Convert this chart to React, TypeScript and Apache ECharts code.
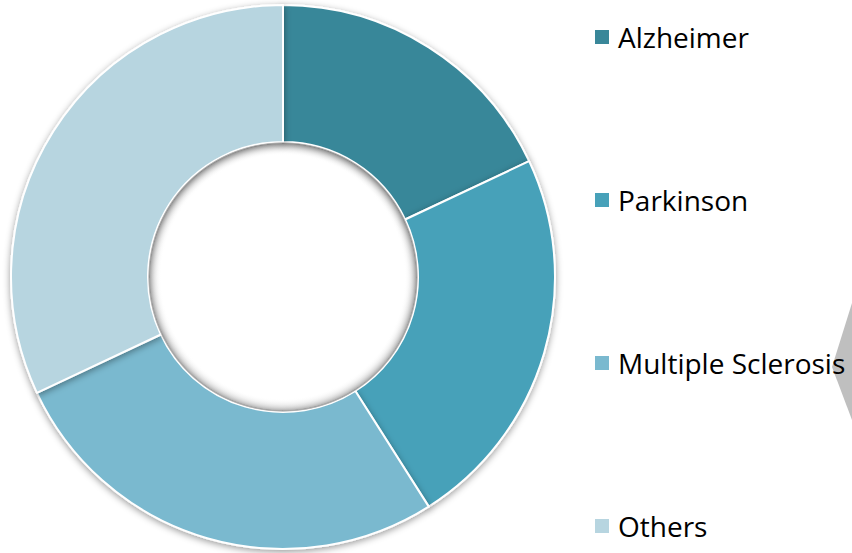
import React, { useEffect, useRef } from "react";
import * as echarts from "echarts";

const categories = ["Alzheimer", "Parkinson", "Multiple Sclerosis", "Others"];
const values = [18, 23, 27, 32];
const colors = ["#398799", "#47A1B9", "#7AB9CF", "#B7D5E0"];

export default function App() {
  const ref = useRef<HTMLDivElement>(null);
  useEffect(() => {
    if (!ref.current) return;
    const chart = echarts.init(ref.current, null, { renderer: "svg" });
    const cx = 283;
    const cy = 277;
    const rIn = 135;
    chart.setOption({
      animation: false,
      backgroundColor: "#ffffff",
      color: colors,
      legend: {
        orient: "vertical",
        left: 593,
        top: 22,
        padding: 0,
        icon: "rect",
        itemWidth: 16,
        itemHeight: 16,
        itemGap: 133,
        data: categories,
        textStyle: {
          fontFamily: "Open Sans",
          fontSize: 28,
          color: "#000000",
          lineHeight: 30,
          padding: [0, 0, 0, 3],
        },
        selectedMode: false,
      },
      graphic: [
        {
          type: "polygon",
          shape: { points: [[832, 367], [852, 303], [852, 420]] },
          style: { fill: "#BFBFBF" },
          silent: true,
        },
        {
          type: "circle",
          z: 100,
          shape: { cx: cx, cy: cy, r: rIn },
          style: {
            fill: new echarts.graphic.RadialGradient(0.5, 0.5, 0.5, [
              { offset: 0, color: "rgba(255,255,255,0)" },
              { offset: 0.9, color: "rgba(255,255,255,0)" },
              { offset: 0.985, color: "rgba(0,0,0,0.22)" },
              { offset: 1, color: "rgba(255,255,255,1)" },
            ]),
          },
          silent: true,
        },
      ],
      series: [
        {
          type: "pie",
          center: [cx, cy],
          radius: [rIn, 272],
          startAngle: 90,
          clockwise: true,
          label: { show: false },
          labelLine: { show: false },
          itemStyle: {
            borderColor: "#ffffff",
            borderWidth: 2,
            shadowColor: "rgba(0,0,0,0.4)",
            shadowBlur: 7,
            shadowOffsetY: 2,
          },
          data: categories.map((name, i) => ({ name, value: values[i] })),
        },
      ],
    });
    return () => chart.dispose();
  }, []);
  return (
    <div
      ref={ref}
      style={{ position: "absolute", left: 0, top: 0, width: 852, height: 553 }}
    />
  );
}
